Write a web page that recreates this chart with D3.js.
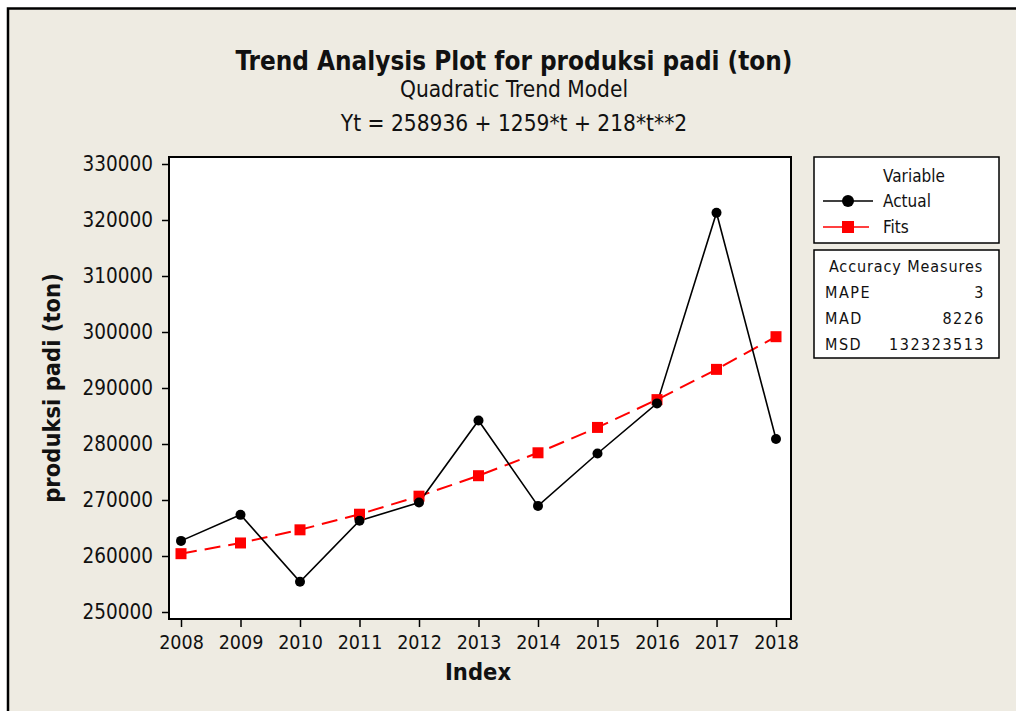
<!DOCTYPE html>
<html>
  <head>
    <meta charset="utf-8">
    <script src="https://d3js.org/d3.v7.min.js"></script>
    <style>
      body { margin: 0; background: #fff; }
      svg { display: block; }
      text { font-family: "DejaVu Sans Condensed", "Liberation Sans", sans-serif; fill: #111; }
    </style>
  </head>
  <body>
    <div class="visual"></div>
    <script>

      // data
      let years = [2008, 2009, 2010, 2011, 2012, 2013, 2014, 2015, 2016, 2017, 2018];
      let actual = [262700, 267350, 255400, 266300, 269550, 284200, 268950, 278300, 287250, 321300, 280900];
      let fits = [260413, 262326, 264675, 267460, 270681, 274338, 278431, 282960, 287925, 293326, 299163];
      let yTicks = [250000, 260000, 270000, 280000, 290000, 300000, 310000, 320000, 330000];
      let measures = [['MAPE', '3'], ['MAD', '8226'], ['MSD', '132323513']];

      let width = 1016;
      let height = 711;

      let svg = d3.select('.visual').append('svg')
        .attr('width', width)
        .attr('height', height);

      // outer panel
      svg.append('rect')
        .attr('x', 8).attr('y', 8)
        .attr('width', width).attr('height', height)
        .attr('fill', '#eeebe2');
      svg.append('path')
        .attr('d', 'M8,' + height + 'V8.5H' + width)
        .attr('fill', 'none')
        .attr('stroke', '#000')
        .attr('stroke-width', 2.5);

      let plot = {left: 169, top: 157, right: 791, bottom: 619};

      let x = d3.scalePoint()
        .domain(years)
        .range([181, 776]);

      let y = d3.scaleLinear()
        .domain([250000, 330000])
        .range([612, 164]);

      svg.append('rect')
        .attr('x', plot.left).attr('y', plot.top)
        .attr('width', plot.right - plot.left)
        .attr('height', plot.bottom - plot.top)
        .attr('fill', '#fff')
        .attr('stroke', '#000')
        .attr('stroke-width', 2);

      // titles
      svg.append('text')
        .attr('x', 514).attr('y', 70)
        .attr('text-anchor', 'middle')
        .attr('font-size', 27).attr('font-weight', 'bold')
        .attr('textLength', 557).attr('lengthAdjust', 'spacingAndGlyphs')
        .text('Trend Analysis Plot for produksi padi (ton)');
      svg.append('text')
        .attr('x', 514).attr('y', 97)
        .attr('text-anchor', 'middle')
        .attr('font-size', 22.5)
        .text('Quadratic Trend Model');
      svg.append('text')
        .attr('x', 514).attr('y', 131)
        .attr('text-anchor', 'middle')
        .attr('font-size', 22.5)
        .text('Yt = 258936 + 1259*t + 218*t**2');

      // y axis
      let yAxis = d3.axisLeft(y)
        .tickValues(yTicks)
        .tickSize(6)
        .tickPadding(9)
        .tickFormat(d3.format('d'));

      let gy = svg.append('g')
        .attr('transform', 'translate(' + (plot.left - 1) + ',0)')
        .call(yAxis);
      gy.select('.domain').remove();
      gy.selectAll('line').attr('stroke', '#000').attr('stroke-width', 1.5);
      gy.selectAll('text')
        .attr('font-size', 20.5)
        .attr('font-family', '"Liberation Sans", sans-serif')
        .attr('fill', '#111');

      // x axis
      let xAxis = d3.axisBottom(x)
        .tickSize(7)
        .tickPadding(8);

      let gx = svg.append('g')
        .attr('transform', 'translate(0,' + (plot.bottom + 1) + ')')
        .call(xAxis);
      gx.select('.domain').remove();
      gx.selectAll('line').attr('stroke', '#000').attr('stroke-width', 1.5);
      gx.selectAll('text')
        .attr('font-size', 19.5)
        .attr('font-family', '"DejaVu Sans Condensed", "Liberation Sans", sans-serif')
        .attr('fill', '#111');

      svg.append('text')
        .attr('x', 478).attr('y', 680)
        .attr('text-anchor', 'middle')
        .attr('font-size', 23.5).attr('font-weight', 'bold')
        .text('Index');

      svg.append('text')
        .attr('transform', 'translate(60,388) rotate(-90)')
        .attr('text-anchor', 'middle')
        .attr('font-size', 23.5).attr('font-weight', 'bold')
        .text('produksi padi (ton)');

      // lines
      let line = d3.line()
        .x((d, i) => x(years[i]))
        .y(d => y(d));

      svg.append('path')
        .datum(fits)
        .attr('d', line)
        .attr('fill', 'none')
        .attr('stroke', '#ff0000')
        .attr('stroke-width', 2)
        .attr('stroke-dasharray', '16,8');

      svg.append('path')
        .datum(actual)
        .attr('d', line)
        .attr('fill', 'none')
        .attr('stroke', '#000')
        .attr('stroke-width', 1.6);

      svg.selectAll('.fit')
        .data(fits)
        .enter().append('rect')
        .attr('class', 'fit')
        .attr('x', (d, i) => x(years[i]) - 5.5)
        .attr('y', d => y(d) - 5.5)
        .attr('width', 11).attr('height', 11)
        .attr('fill', '#ff0000');

      svg.selectAll('.act')
        .data(actual)
        .enter().append('circle')
        .attr('class', 'act')
        .attr('cx', (d, i) => x(years[i]))
        .attr('cy', d => y(d))
        .attr('r', 5)
        .attr('fill', '#000');

      // legend
      let lg = svg.append('g');
      lg.append('rect')
        .attr('x', 814).attr('y', 157)
        .attr('width', 185).attr('height', 86)
        .attr('fill', '#fff').attr('stroke', '#000').attr('stroke-width', 1.5);
      lg.append('text')
        .attr('x', 914).attr('y', 182)
        .attr('text-anchor', 'middle')
        .attr('font-size', 17)
        .text('Variable');
      lg.append('line')
        .attr('x1', 823).attr('x2', 873).attr('y1', 201).attr('y2', 201)
        .attr('stroke', '#000').attr('stroke-width', 1.6);
      lg.append('circle')
        .attr('cx', 848).attr('cy', 201).attr('r', 6).attr('fill', '#000');
      lg.append('text')
        .attr('x', 883).attr('y', 207)
        .attr('font-size', 17)
        .text('Actual');
      lg.append('line')
        .attr('x1', 823).attr('x2', 869).attr('y1', 227).attr('y2', 227)
        .attr('stroke', '#ff0000').attr('stroke-width', 1.6);
      lg.append('rect')
        .attr('x', 842).attr('y', 221).attr('width', 12).attr('height', 12)
        .attr('fill', '#ff0000');
      lg.append('text')
        .attr('x', 883).attr('y', 233)
        .attr('font-size', 17)
        .text('Fits');

      // accuracy measures
      let am = svg.append('g');
      am.append('rect')
        .attr('x', 814).attr('y', 250)
        .attr('width', 185).attr('height', 108)
        .attr('fill', '#fff').attr('stroke', '#000').attr('stroke-width', 1.5);
      am.append('text')
        .attr('x', 906).attr('y', 272)
        .attr('text-anchor', 'middle')
        .attr('font-size', 16)
        .attr('letter-spacing', 0.9)
        .attr('font-family', '"DejaVu Sans", sans-serif')
        .text('Accuracy Measures');
      measures.forEach((m, i) => {
        am.append('text')
          .attr('x', 825).attr('y', 298 + i * 26)
          .attr('font-size', 16)
          .attr('letter-spacing', 1.5)
          .attr('font-family', '"DejaVu Sans", sans-serif')
          .text(m[0]);
        am.append('text')
          .attr('x', 985).attr('y', 298 + i * 26)
          .attr('text-anchor', 'end')
          .attr('font-size', 16)
          .attr('letter-spacing', 1.5)
          .attr('font-family', '"DejaVu Sans", sans-serif')
          .text(m[1]);
      });
    </script>
  </body>
</html>
